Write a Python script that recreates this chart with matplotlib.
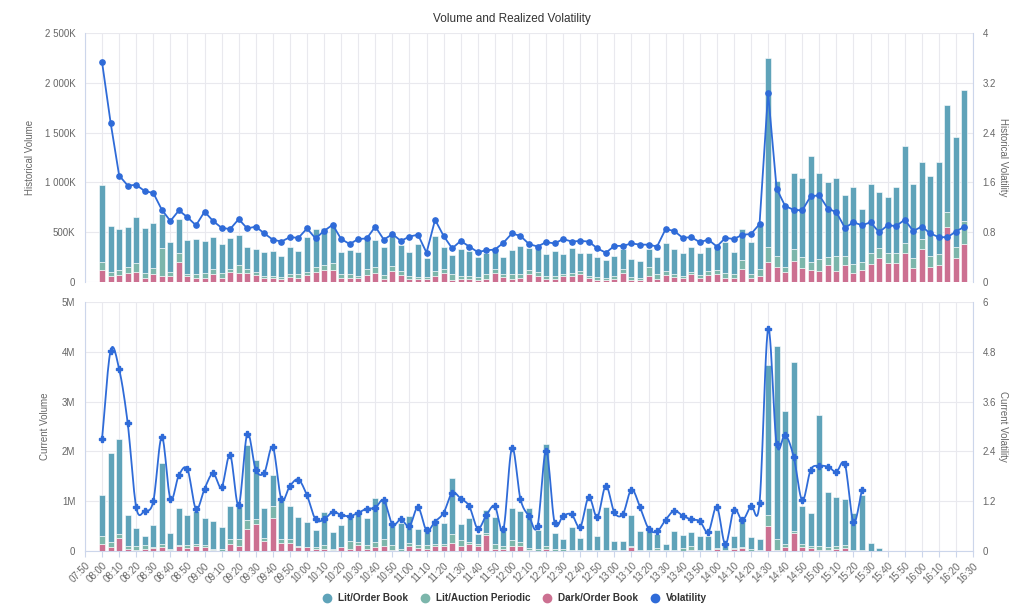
import matplotlib
matplotlib.use("Agg")
import matplotlib.pyplot as plt
from matplotlib.lines import Line2D
from matplotlib.ticker import FuncFormatter, MultipleLocator
import numpy as np

plt.rcParams['font.family'] = ['Liberation Sans', 'DejaVu Sans']

# 5-minute slots starting at 08:00 (minutes since midnight)
start_min = 8 * 60
slot = 5

# ---- historical (top panel), volumes in thousands ----
hist_lit = [779, 463, 412, 405, 463, 452, 450, 341, 298, 348, 342, 351, 328, 318, 291, 311, 310, 216, 230, 243,
            250, 209, 277, 236, 355, 378, 374, 378, 226, 243, 233, 314, 270, 283, 314, 257, 247, 331, 185, 355,
            216, 186, 267, 257, 196, 203, 203, 175, 237, 283, 220, 247, 223, 254, 196, 254, 183, 223, 199, 176,
            193, 193, 182, 165, 176, 169, 284, 256, 230, 254, 226, 237, 254, 314, 220, 317, 315, 466, 1892, 754,
            591, 767, 794, 1064, 869, 754, 787, 615, 774, 530, 699, 567, 564, 669, 973, 743, 780, 804, 929, 1068,
            1101, 1311]
hist_auction = [71, 44, 54, 58, 85, 51, 67, 281, 37, 84, 20, 38, 48, 51, 47, 34, 75, 44, 27, 21,
                24, 24, 24, 34, 33, 51, 48, 61, 38, 34, 24, 67, 61, 34, 51, 43, 23, 17, 17, 50,
                44, 67, 27, 23, 27, 50, 44, 27, 50, 38, 47, 37, 27, 23, 27, 27, 27, 24, 34, 20,
                34, 44, 34, 27, 88, 50, 43, 27, 20, 23, 24, 43, 40, 47, 40, 85, 40, 71, 152, 108,
                51, 115, 111, 78, 115, 87, 149, 94, 88, 78, 111, 102, 108, 101, 108, 101, 101, 108, 114, 149,
                119, 237]
hist_dark = [125, 57, 71, 91, 101, 44, 78, 57, 64, 203, 64, 40, 40, 84, 44, 101, 91, 91, 74, 40,
             40, 27, 54, 44, 68, 101, 118, 125, 40, 44, 40, 68, 91, 34, 108, 68, 34, 34, 34, 61,
             91, 17, 34, 34, 24, 34, 91, 51, 34, 40, 78, 64, 30, 34, 57, 64, 84, 40, 17, 24,
             30, 91, 17, 17, 64, 34, 68, 51, 44, 78, 44, 68, 78, 44, 44, 135, 44, 64, 203, 152,
             101, 213, 142, 125, 111, 166, 111, 166, 91, 125, 176, 236, 186, 186, 287, 142, 328, 152, 166, 557,
             236, 378]
hist_vol = [3.53, 2.56, 1.71, 1.55, 1.56, 1.46, 1.43, 1.16, 0.98, 1.15, 1.04, 0.91, 1.13, 0.98, 0.87, 0.85,
            1.01, 0.86, 0.89, 0.78, 0.68, 0.65, 0.72, 0.71, 0.86, 0.70, 0.82, 0.92, 0.69, 0.61, 0.69, 0.70,
            0.89, 0.68, 0.77, 0.66, 0.73, 0.76, 0.47, 1.00, 0.74, 0.54, 0.66, 0.57, 0.48, 0.51, 0.52, 0.63,
            0.78, 0.74, 0.61, 0.57, 0.64, 0.62, 0.69, 0.65, 0.66, 0.65, 0.54, 0.47, 0.58, 0.58, 0.62, 0.60,
            0.60, 0.57, 0.85, 0.82, 0.71, 0.72, 0.64, 0.68, 0.57, 0.71, 0.69, 0.76, 0.77, 0.93, 3.04, 1.50,
            1.22, 1.16, 1.15, 1.38, 1.39, 1.18, 1.12, 0.87, 0.96, 0.91, 0.96, 0.80, 0.91, 0.90, 1.00, 0.82,
            0.89, 0.78, 0.72, 0.72, 0.81, 0.89]

# ---- current (bottom panel), volumes in thousands ----
cur_lit = [825, 1795, 1890, 636, 365, 196, 450, 1622, 309, 756, 616, 662, 551, 555, 440, 652, 650, 1500, 1180, 600,
           614, 800, 650, 570, 490, 340, 676, 335, 440, 490, 560, 541, 895, 760, 446, 525, 550, 336, 336, 480,
           410, 1120, 305, 480, 190, 470, 535, 330, 636, 610, 806, 383, 2046, 330, 210, 450, 235, 825, 270, 850,
           180, 180, 630, 370, 460, 280, 130, 370, 250, 270, 270, 270, 360, 100, 240, 540, 235, 210, 3020, 3885,
           2670, 3380, 770, 650, 2633, 1090, 980, 910, 740, 1100, 160, 55]
cur_auction = [147, 95, 80, 54, 73, 67, 20, 68, 34, 20, 54, 48, 34, 27, 30, 114, 156, 180, 100, 70,
               246, 90, 90, 30, 10, 40, 67, 20, 10, 163, 66, 67, 95, 156, 87, 30, 66, 54, 74, 50,
               50, 170, 120, 56, 50, 45, 103, 50, 136, 96, 30, 37, 47, 30, 35, 20, 25, 20, 25, 20,
               15, 15, 20, 20, 20, 40, 15, 20, 60, 90, 20, 20, 30, 20, 20, 20, 30, 20, 210, 205,
               60, 50, 60, 50, 87, 70, 60, 76, 20, 15, 10, 5]
cur_dark = [148, 80, 270, 40, 27, 47, 60, 80, 13, 94, 60, 100, 80, 13, 10, 134, 94, 450, 550, 200,
            660, 160, 160, 80, 80, 40, 47, 30, 80, 47, 114, 47, 80, 94, 27, 10, 94, 60, 40, 100,
            100, 170, 110, 134, 100, 315, 47, 50, 94, 94, 30, 10, 47, 10, 5, 10, 5, 10, 5, 10,
            5, 5, 80, 10, 10, 20, 5, 10, 10, 20, 10, 10, 40, 10, 40, 60, 10, 10, 510, 30,
            80, 360, 80, 60, 20, 20, 50, 54, 10, 5, 0, 0]
cur_vol = [2.71, 4.83, 4.38, 3.08, 1.05, 0.97, 1.20, 2.75, 1.26, 1.83, 1.97, 1.01, 1.50, 1.87, 1.54, 2.31,
           1.10, 2.82, 1.96, 1.89, 2.50, 1.25, 1.57, 1.72, 1.34, 0.76, 0.76, 0.94, 0.87, 0.84, 0.92, 1.02,
           1.04, 1.22, 0.64, 0.76, 0.60, 1.05, 0.50, 0.71, 0.92, 1.40, 1.26, 1.08, 0.54, 0.86, 1.08, 0.52,
           2.48, 1.25, 0.84, 0.60, 2.42, 0.68, 0.85, 0.88, 0.58, 1.30, 0.82, 1.57, 0.93, 0.89, 1.48, 1.06,
           0.54, 0.47, 0.75, 0.97, 0.85, 0.76, 0.72, 0.46, 1.06, 0.16, 1.00, 0.74, 1.09, 1.16, 5.34, 2.58,
           2.80, 2.27, 1.22, 1.96, 2.05, 2.03, 1.91, 2.09, 0.70, 1.47]

labels = ['Lit/Order Book', 'Lit/Auction Periodic', 'Dark/Order Book', 'Volatility']
colors = ['#5fa3b9', '#7cb6ab', '#cc7091', '#2f6bd8']
grid_c = '#e9e9ee'
axis_c = '#ccd6eb'
text_c = '#666666'


def catmull(x, y, n=12):
    # smooth curve through the points (spline look of the lower chart)
    x = np.asarray(x, float)
    y = np.asarray(y, float)
    m = np.zeros_like(y)
    m[1:-1] = (y[2:] - y[:-2]) / 2
    m[0] = y[1] - y[0]
    m[-1] = y[-1] - y[-2]
    xs, ys = [], []
    for i in range(len(x) - 1):
        t = np.linspace(0, 1, n, endpoint=False)
        h00 = 2 * t**3 - 3 * t**2 + 1
        h10 = t**3 - 2 * t**2 + t
        h01 = -2 * t**3 + 3 * t**2
        h11 = t**3 - t**2
        xs.append(x[i] + t * (x[i + 1] - x[i]))
        ys.append(h00 * y[i] + h10 * m[i] + h01 * y[i + 1] + h11 * m[i + 1])
    xs.append([x[-1]])
    ys.append([y[-1]])
    return np.concatenate(xs), np.concatenate(ys)


def draw_bars(ax, lit, auc, dark):
    n = len(lit)
    x = start_min + slot * np.arange(n)
    lit = np.array(lit)
    auc = np.array(auc)
    dark = np.array(dark)
    kw = dict(width=3.5, edgecolor='white', linewidth=0.4, zorder=3)
    ax.bar(x, dark, color=colors[2], **kw)
    ax.bar(x, auc, bottom=dark, color=colors[1], **kw)
    ax.bar(x, lit, bottom=dark + auc, color=colors[0], **kw)


def style(ax, axr):
    ax.set_xlim(470, 990)
    ax.xaxis.set_major_locator(MultipleLocator(10))
    ax.grid(True, color=grid_c, linewidth=0.8, zorder=0)
    ax.set_axisbelow(True)
    for s in ['top', 'bottom']:
        ax.spines[s].set_visible(False)
        axr.spines[s].set_visible(False)
    ax.spines['left'].set_color(axis_c)
    ax.spines['right'].set_visible(False)
    axr.spines['left'].set_visible(False)
    axr.spines['right'].set_color(axis_c)
    ax.tick_params(axis='y', length=0, labelsize=7, labelcolor=text_c, pad=7)
    axr.tick_params(axis='y', length=0, labelsize=7, labelcolor=text_c, pad=7)


fig = plt.figure(figsize=(10.24, 6.16), dpi=100)
W, H = 1024, 616

# top panel
ax1 = fig.add_axes([85 / W, 1 - 282 / H, 888 / W, 249 / H])
draw_bars(ax1, hist_lit, hist_auction, hist_dark)
ax1.set_ylim(0, 2500)
ax1.set_yticks(np.arange(0, 2501, 500))
ax1.yaxis.set_major_formatter(FuncFormatter(lambda v, p: '0' if v == 0 else f'{v:,.0f}K'.replace(',', ' ')))
ax1r = ax1.twinx()
xh = start_min + slot * np.arange(len(hist_vol))
ax1r.plot(xh, hist_vol, color=colors[3], linewidth=1.3, marker='o', markersize=3.8, zorder=5)
ax1r.set_ylim(0, 4)
ax1r.set_yticks([0, 0.8, 1.6, 2.4, 3.2, 4])
ax1r.yaxis.set_major_formatter(FuncFormatter(lambda v, p: f'{v:g}'))
style(ax1, ax1r)
ax1.tick_params(axis='x', length=0, labelbottom=False)
ax1.set_ylabel('Historical Volume', fontsize=7, color=text_c)
ax1.yaxis.set_label_coords(-0.056, 0.5)
ax1r.set_ylabel('Historical Volatility', fontsize=7, color=text_c, rotation=270, va='center')
ax1r.yaxis.set_label_coords(1.034, 0.5)

# bottom panel
ax2 = fig.add_axes([85 / W, 1 - 551 / H, 888 / W, 249 / H])
draw_bars(ax2, cur_lit, cur_auction, cur_dark)
ax2.set_ylim(0, 5000)
ax2.set_yticks(np.arange(0, 5001, 1000))
ax2.yaxis.set_major_formatter(FuncFormatter(lambda v, p: '0' if v == 0 else f'{v / 1000:.0f}M'))
ax2r = ax2.twinx()
xc = start_min + slot * np.arange(len(cur_vol))
sx, sy = catmull(xc, cur_vol)
ax2r.plot(sx, sy, color=colors[3], linewidth=1.3, zorder=5)
ax2r.plot(xc, cur_vol, linestyle='', marker='P', markersize=4, color=colors[3], zorder=6)
ax2r.set_ylim(0, 6)
ax2r.set_yticks([0, 1.2, 2.4, 3.6, 4.8, 6])
ax2r.yaxis.set_major_formatter(FuncFormatter(lambda v, p: f'{v:g}'))
style(ax2, ax2r)
ax2.spines['bottom'].set_visible(True)
ax2.spines['bottom'].set_color(axis_c)
ticks = np.arange(470, 991, 10)
ax2.set_xticks(ticks)
ax2.set_xticklabels([f'{int(t) // 60:02d}:{int(t) % 60:02d}' for t in ticks],
                    rotation=45, ha='right', rotation_mode='anchor', fontsize=7, color=text_c)
ax2.tick_params(axis='x', length=4, color=axis_c, pad=3)
ax2.set_ylabel('Current Volume', fontsize=7, color=text_c)
ax2.yaxis.set_label_coords(-0.039, 0.5)
ax2r.set_ylabel('Current Volatility', fontsize=7, color=text_c, rotation=270, va='center')
ax2r.yaxis.set_label_coords(1.034, 0.5)

fig.text(0.5, 1 - 19 / H, 'Volume and Realized Volatility', ha='center', va='center', fontsize=8.5, color='#333333')

handles = [Line2D([], [], linestyle='', marker='o', markersize=6, color=c) for c in colors]
fig.legend(handles, labels, loc='center', bbox_to_anchor=(0.5, 1 - 598 / H), ncol=4, frameon=False,
           prop={'weight': 'bold', 'size': 7.2}, handletextpad=0.1, columnspacing=0.7, labelcolor='#333333')

fig.savefig('out.png', dpi=100)
